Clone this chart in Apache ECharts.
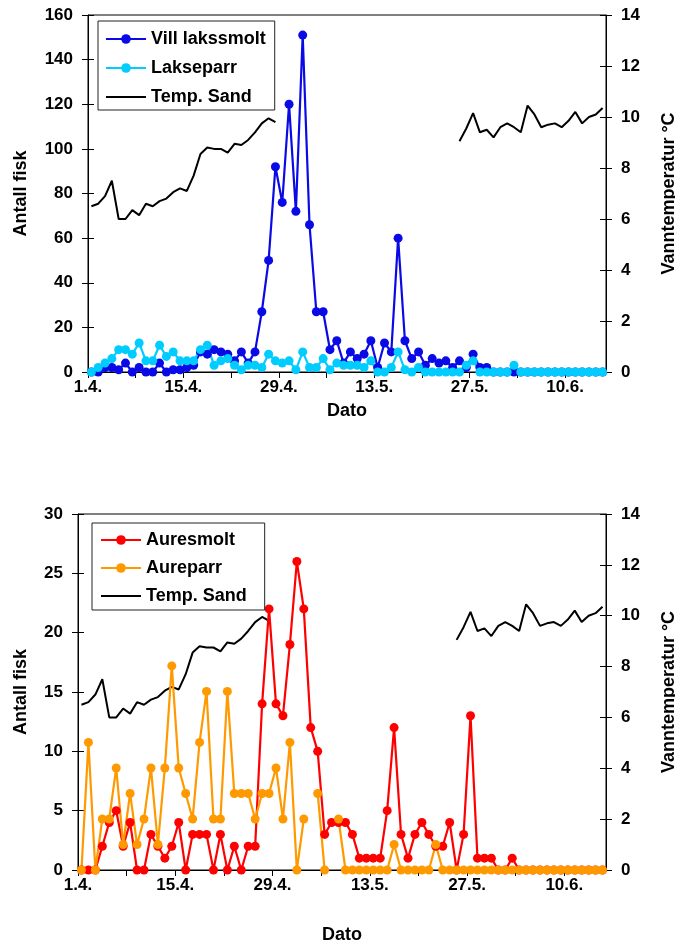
<!DOCTYPE html>
<html>
<head>
<meta charset="utf-8">
<script src="https://cdn.jsdelivr.net/npm/echarts@6/dist/echarts.min.js"></script>
<style>
html,body{margin:0;padding:0;background:#fff;overflow:hidden;}
#chart{width:675px;height:945px;}
</style>
</head>
<body>
<div id="chart"></div>
<script>
// Day index 0 = 1.4.; one value per day (76 days)
var xTickDays   = [0, 14, 28, 42, 56, 70];
var xTickLabels = ['1.4.', '15.4.', '29.4.', '13.5.', '27.5.', '10.6.'];

var villLakssmolt = [0,0,2,2,1,4,0,2,0,0, 4,0,1,1,2,3,9,8,10,9, 8,5,9,4,9,27,50,92,76,120,
  72,151,66,27,27,10,14,4,9,6, 8,14,2,13,9,60,14,6,9,3, 6,4,5,2,5,2,8,2,2,0,
  0,0,0,0,0,0,0,0,0,0, 0,0,0,0,0,0];
var lakseparr = [0,2,4,6,10,10,8,13,5,5, 12,7,9,5,5,5,10,12,3,5, 6,3,1,3,3,2,8,5,4,5,
  1,9,2,2,6,1,4,3,3,3, 2,5,0,0,2,9,1,0,2,0, 0,0,0,0,0,3,5,0,0,0,
  0,0,3,0,0,0,0,0,0,0, 0,0,0,0,0,0];
var tempSand = [6.5,6.6,6.9,7.5,6.0,6.0,6.35,6.15,6.6,6.5, 6.7,6.8,7.05,7.2,7.1,7.7,8.55,8.8,8.75,8.75,
  8.6,8.95,8.9,9.1,9.4,9.75,9.95,9.8,
  null,null,null,null,null,null,null,null,null,null,null,null,null,
  null,null,null,null,null,null,null,null,null,null,null,null,null,
  9.05,9.55,10.15,9.4,9.5,9.2,9.6,9.75,9.6,9.4, 10.45,10.1,9.6,9.7,9.75,9.6,9.85,10.2,9.75,10.0,
  10.1,10.35];
var auresmolt = [0,0,0,2,4,5,2,4,0,0, 3,2,1,2,4,0,3,3,3,0, 3,0,2,0,2,2,14,22,14,13,
  19,26,22,12,10,3,4,4,4,3, 1,1,1,1,5,12,3,1,3,4, 3,2,2,4,0,3,13,1,1,1,
  0,0,1,0,0,0,0,0,0,0, 0,0,0,0,0,0];
var aureparr = [0,10.75,0,4.3,4.3,8.6,2.15,6.45,2.15,4.3, 8.6,2.15,8.6,17.2,8.6,6.45,4.3,10.75,15.05,4.3,
  4.3,15.05,6.45,6.45,6.45,4.3,6.45,6.45,8.6,4.3, 10.75,0,4.3,null,6.45,0,null,4.3,0,0,
  0,0,0,0,0,2.15,0,0,0,0, 0,2.15,0,0,0,0,0,0,0,0,
  0,0,0,0,0,0,0,0,0,0, 0,0,0,0,0,0];

function pts(arr){ return arr.map(function(v,i){ return [i + 0.5, v]; }); }

var FONT = 'Liberation Sans';
var lblStyle = {fontFamily: FONT, fontWeight: 'bold', fontSize: 17, color: '#000'};
var nameStyle = {fontFamily: FONT, fontWeight: 'bold', fontSize: 18, color: '#000'};

function xAxis(gi, gap){
  return {
    type: 'value', gridIndex: gi, min: 0, max: 76, interval: 7,
    axisLine: {show: true, lineStyle: {color: '#000', width: 1}},
    axisTick: {show: true, length: 6, lineStyle: {color: '#000'}},
    splitLine: {show: false},
    axisLabel: Object.assign({margin: 7, showMaxLabel: false, formatter: function(v){
      var k = xTickDays.indexOf(v); return k >= 0 ? xTickLabels[k] : '';
    }}, lblStyle),
    name: 'Dato', nameLocation: 'middle', nameGap: gap, nameTextStyle: nameStyle
  };
}
function yAxis(gi, pos, max, interval, name, gap, inside){
  var o = {
    type: 'value', gridIndex: gi, position: pos, min: 0, max: max, interval: interval,
    axisLine: {show: !inside, onZero: false, lineStyle: {color: '#000', width: 1}},
    axisTick: {show: true, inside: !!inside, length: 6, lineStyle: {color: '#000'}},
    splitLine: {show: false},
    axisLabel: inside ? {show: false} : Object.assign({margin: 15}, lblStyle)
  };
  if (!inside) {
    o.name = name; o.nameLocation = 'middle'; o.nameGap = gap; o.nameRotate = 90;
    o.nameTextStyle = nameStyle;
  }
  return o;
}

function fishSeries(name, data, color, xi, yi){
  return {
    name: name, type: 'line', xAxisIndex: xi, yAxisIndex: yi, data: pts(data),
    symbol: 'circle', symbolSize: 9, showSymbol: true, connectNulls: false,
    lineStyle: {color: color, width: 2.2}, itemStyle: {color: color},
    emphasis: {disabled: true}, animation: false
  };
}
function tempSeries(xi, yi){
  return {
    name: 'Temp. Sand', type: 'line', xAxisIndex: xi, yAxisIndex: yi, data: pts(tempSand),
    showSymbol: false, symbol: 'none', connectNulls: false,
    lineStyle: {color: '#000', width: 2}, itemStyle: {color: '#000'},
    emphasis: {disabled: true}, animation: false
  };
}

var tempLegendItem = {name: 'Temp. Sand', itemStyle: {color: 'rgba(0,0,0,0)', borderWidth: 0, opacity: 0}};

var chart = echarts.init(document.getElementById('chart'), null, {renderer: 'canvas'});
chart.setOption({
  animation: false,
  backgroundColor: '#fff',
  grid: [
    {left: 88, right: 69, top: 15, bottom: 573, show: true, borderColor: '#000', borderWidth: 1,
     containLabel: false, outerBoundsMode: 'none'},
    {left: 78, right: 69, top: 514, bottom: 75, show: true, borderColor: '#000', borderWidth: 1,
     containLabel: false, outerBoundsMode: 'none'}
  ],
  legend: [
    {orient: 'vertical', left: 98, top: 21, itemWidth: 40, itemHeight: 12, itemGap: 9,
     padding: [8, 9, 3, 7], borderColor: '#222', borderWidth: 1, backgroundColor: '#fff',
     textStyle: Object.assign({lineHeight: 20}, nameStyle), selectedMode: false,
     data: ['Vill lakssmolt', 'Lakseparr', tempLegendItem]},
    {orient: 'vertical', left: 92, top: 523, itemWidth: 40, itemHeight: 12, itemGap: 8,
     padding: [7, 18, 4, 8], borderColor: '#222', borderWidth: 1, backgroundColor: '#fff',
     textStyle: Object.assign({lineHeight: 20}, nameStyle), selectedMode: false,
     data: ['Auresmolt', 'Aureparr', tempLegendItem]}
  ],
  xAxis: [xAxis(0, 30), xAxis(1, 56)],
  yAxis: [
    yAxis(0, 'left', 160, 20, 'Antall fisk', 58),
    yAxis(0, 'right', 14, 2, 'Vanntemperatur \u00B0C', 54),
    yAxis(1, 'left', 30, 5, 'Antall fisk', 48),
    yAxis(1, 'right', 14, 2, 'Vanntemperatur \u00B0C', 54),
    yAxis(0, 'left', 160, 20, '', 0, true),
    yAxis(0, 'right', 14, 2, '', 0, true),
    yAxis(1, 'left', 30, 5, '', 0, true),
    yAxis(1, 'right', 14, 2, '', 0, true)
  ],
  series: [
    tempSeries(0, 1),
    fishSeries('Vill lakssmolt', villLakssmolt, '#0a0ae6', 0, 0),
    fishSeries('Lakseparr', lakseparr, '#00ccff', 0, 0),
    tempSeries(1, 3),
    fishSeries('Auresmolt', auresmolt, '#ff0000', 1, 2),
    fishSeries('Aureparr', aureparr, '#ff9900', 1, 2)
  ]
});
</script>
</body>
</html>
